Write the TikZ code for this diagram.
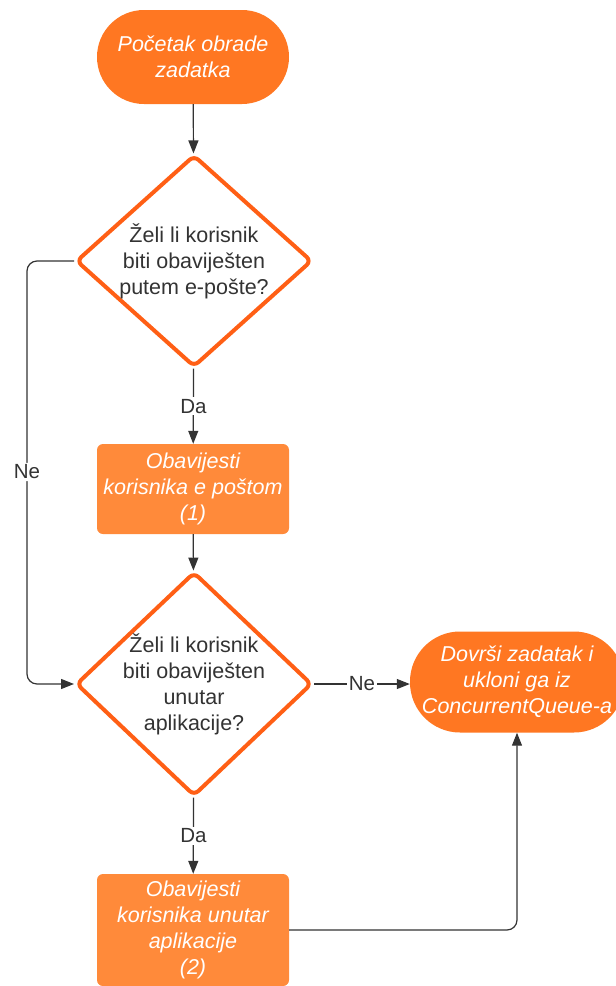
\documentclass[tikz,border=0pt]{standalone}
\usepackage{fontspec}
\setmainfont{Liberation Sans}
\usetikzlibrary{shapes.geometric,arrows.meta}

\definecolor{termorange}{HTML}{FF7722}
\definecolor{boxorange}{HTML}{FF8A3A}
\definecolor{edgeorange}{HTML}{FF5F15}
\definecolor{linegray}{HTML}{333333}

\tikzset{
    basetext/.style={font=\fontsize{21.5}{26}\selectfont, align=center, inner sep=0pt},
    terminal/.style={basetext, font=\fontsize{21.5}{26}\selectfont\itshape, fill=termorange, text=white},
    process/.style={basetext, font=\fontsize{21.5}{26}\selectfont\itshape, fill=boxorange, text=white,
        rounded corners=6pt, minimum width=192pt},
    decision/.style={basetext, diamond, aspect=1.11, draw=edgeorange, line width=4pt, fill=white,
        text=linegray, rounded corners=6pt, minimum width=236pt},
    conn/.style={draw=linegray, line width=1.2pt, -{Triangle[length=13pt,width=10pt]}},
    lbl/.style={font=\fontsize{20.5}{24}\selectfont, text=linegray, fill=white, inner sep=2pt}
}

\begin{document}
\begin{tikzpicture}[x=1pt, y=-1pt]
    \useasboundingbox (0,0) rectangle (616,986);

    \node[terminal, rounded corners=47pt, minimum width=192pt, minimum height=94pt] (start) at (193,57)
        {Početak obrade\\zadatka};
    \node[decision, minimum height=212pt] (mail) at (194,261)
        {Želi li korisnik\\biti obaviješten\\putem e-pošte?};
    \node[process, minimum height=90pt] (notifymail) at (193,489)
        {Obavijesti\\korisnika e poštom\\(1)};
    % four lines of text: keep the diamond as wide as the first one
    \node[decision, aspect=1.2, inner sep=-7pt, minimum height=224pt] (app) at (194,684)
        {Želi li korisnik\\biti obaviješten\\unutar\\aplikacije?};
    \node[process, minimum height=112pt] (notifyapp) at (193,930)
        {Obavijesti\\korisnika unutar\\aplikacije\\(2)};
    \node[terminal, rounded corners=50pt, minimum width=214pt, minimum height=101pt] (finish) at (517,682)
        {Dovrši zadatak i\\ukloni ga iz\\ConcurrentQueue-a};

    \coordinate (nebend) at (27,472);

    \draw[conn] (start) -- (mail);
    \draw[conn] (mail) -- node[lbl] {Da} (notifymail);
    \draw[conn] (notifymail) -- (app);
    \draw[conn, rounded corners=10pt] (mail.west) -| (nebend) node[lbl] {Ne} |- (app.west);
    \draw[conn] (app.east) -- node[lbl] {Ne} (app.east -| finish.west);
    \draw[conn] (app) -- node[lbl] {Da} (notifyapp);
    \draw[conn, rounded corners=10pt] (notifyapp.east) -| (finish.south);
\end{tikzpicture}
\end{document}
